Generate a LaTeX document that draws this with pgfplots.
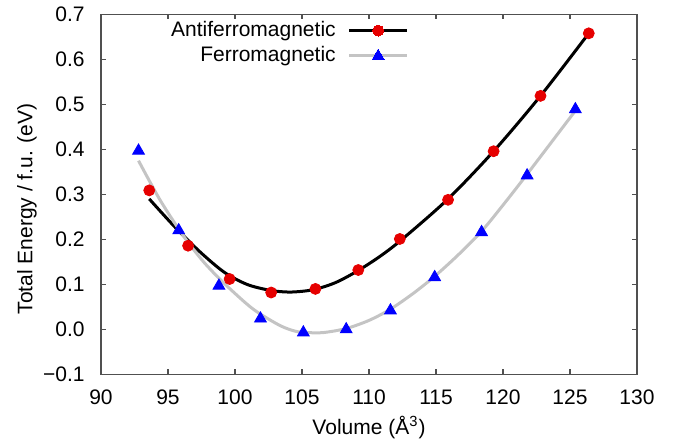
\documentclass[border=0pt]{standalone}
\usepackage{pgfplots}
\pgfplotsset{compat=1.18}
\usepackage{fontspec}
\setmainfont{Liberation Sans}
\usetikzlibrary{calc}
\definecolor{afmred}{RGB}{230,0,0}
\definecolor{fmblue}{RGB}{0,0,255}
\definecolor{fmgrey}{RGB}{196,196,196}
\definecolor{axgrey}{RGB}{80,80,80}
\begin{document}
\fontsize{10.5}{12.6}\selectfont
\begin{tikzpicture}
\begin{axis}[
    scale only axis,
    width=268pt, height=180pt,
    xmin=90, xmax=130, ymin=-0.1, ymax=0.7,
    xtick={90,95,100,105,110,115,120,125,130},
    ytick={-0.1,0,0.1,0.2,0.3,0.4,0.5,0.6,0.7},
    yticklabels={−0.1,0.0,0.1,0.2,0.3,0.4,0.5,0.6,0.7},
    /pgf/number format/assume math mode=true,
    tick align=inside,
    major tick length=2.5pt,
    axis line style={axgrey, line width=0.6pt},
    every tick/.style={axgrey, line width=0.6pt},
    tick label style={font=\fontsize{10.5}{12}\selectfont},
    yticklabel style={xshift=-4.5pt},
    xticklabel style={yshift=-4pt},
    xlabel={Volume (Å\textsuperscript{3})},
    ylabel={Total Energy / f.u. (eV)},
    xlabel style={at={(axis description cs:0.5,-0.148)}, anchor=center},
    ylabel style={at={(axis description cs:-0.138,0.46)}, anchor=center},
    legend style={draw=none, fill=none, at={(0.586,1.004)}, anchor=north east,
        font=\fontsize{10.5}{12}\selectfont, row sep=-0.5pt,
        /tikz/every odd column/.append style={column sep=4pt}},
    legend cell align=right,
    legend plot pos=right,
    legend image code/.code={\draw[mark repeat=2,mark phase=2,#1]
        plot coordinates {(0pt,0pt) (14.5pt,0pt) (29pt,0pt)};},
]
\addlegendimage{black, line width=1.5pt, mark=*, mark size=2.75pt,
    mark options={fill=afmred, draw=afmred, line width=0pt}}
\addlegendentry{Antiferromagnetic}
\addlegendimage{fmgrey, line width=1.5pt, mark=triangle*, mark size=3.4pt,
    mark options={fill=fmblue, draw=fmblue, line width=0pt}}
\addlegendentry{Ferromagnetic}

% antiferromagnetic fit
\addplot[black, line width=1.5pt, smooth, forget plot] coordinates {
    (93.6,0.290) (95.5,0.228) (97.4,0.172) (99.2,0.127) (100.9,0.100)
    (102.6,0.087) (104.1,0.083) (105.8,0.088) (107.5,0.104) (109.2,0.131)
    (110.9,0.164) (112.5,0.201) (115.9,0.290) (119.3,0.396) (122.8,0.519)
    (126.4,0.658)
};
% antiferromagnetic points
\addplot[only marks, mark=*, mark size=2.75pt, afmred, forget plot] coordinates {
    (93.6,0.309) (96.5,0.186) (99.6,0.112) (102.7,0.082) (106.0,0.090)
    (109.2,0.132) (112.3,0.201) (115.9,0.288) (119.3,0.396) (122.8,0.519)
    (126.4,0.658)
};
% ferromagnetic fit
\addplot[fmgrey, line width=1.5pt, smooth, forget plot] coordinates {
    (92.8,0.375) (94.4,0.288) (96.1,0.210) (97.6,0.152) (99.1,0.105)
    (100.9,0.056) (101.9,0.034) (103.4,0.008) (104.5,-0.004) (105.4,-0.007)
    (106.6,-0.007) (108.3,0.002) (110.0,0.020) (111.6,0.045) (113.3,0.080)
    (114.9,0.118) (116.6,0.164) (118.4,0.218) (120.1,0.280) (121.8,0.345)
    (125.4,0.486)
};
% ferromagnetic points
\addplot[only marks, mark=triangle*, mark size=3.4pt, fmblue, forget plot] coordinates {
    (92.8,0.397) (95.8,0.220) (98.8,0.097) (101.9,0.024) (105.1,-0.007)
    (108.3,0.000) (111.6,0.042) (114.9,0.116) (118.4,0.216) (121.8,0.342)
    (125.4,0.489)
};
\end{axis}
\path ($(current axis.south west)+(-50.5pt,-36.5pt)$) rectangle
      ($(current axis.north east)+(24pt,6.5pt)$);
\end{tikzpicture}
\end{document}
